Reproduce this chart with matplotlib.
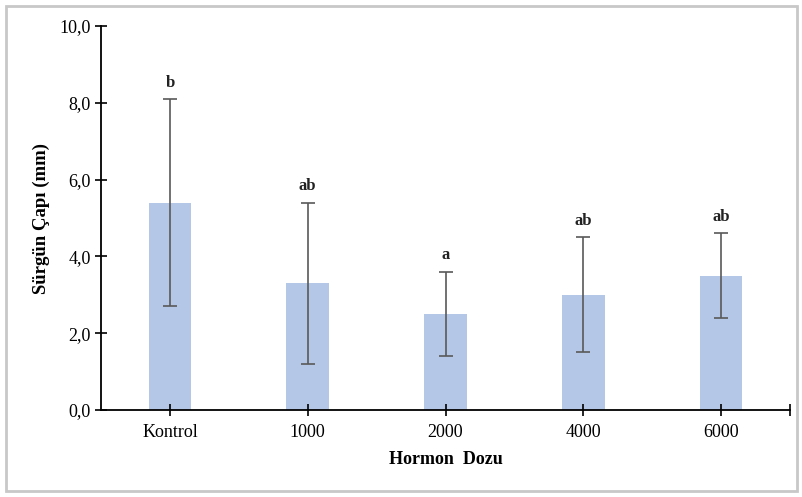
import matplotlib
matplotlib.use("Agg")
import matplotlib.pyplot as plt
from matplotlib.patches import Rectangle
from matplotlib.ticker import FuncFormatter, MultipleLocator

categories = ["Kontrol", "1000", "2000", "4000", "6000"]
means = [5.4, 3.3, 2.5, 3.0, 3.5]
errors = [2.7, 2.1, 1.1, 1.5, 1.1]
letters = ["b", "ab", "a", "ab", "ab"]

plt.rcParams['font.family'] = ['Liberation Serif', 'DejaVu Serif']

fig = plt.figure(figsize=(8.03, 4.97), dpi=100)
fig.patches.append(Rectangle((0.008, 0.012), 0.984, 0.976, transform=fig.transFigure,
                             fill=False, edgecolor='#c8c8c8', linewidth=2))
ax = fig.add_axes([0.1258, 0.175, 0.858, 0.7727])

x = list(range(len(categories)))
ax.bar(x, means, width=0.31, color='#B4C7E7', zorder=1)
ax.errorbar(x, means, yerr=errors, fmt='none', ecolor='#595959', elinewidth=1.2,
            capsize=5, capthick=1.2, zorder=2)
for xi, m, e, l in zip(x, means, errors, letters):
    ax.annotate(l, (xi, m + e), xytext=(0, 6), textcoords='offset points',
                ha='center', va='bottom', fontsize=12, fontweight='bold', color='#222222')

ax.set_xlim(-0.5, 4.5)
ax.set_ylim(0, 10)
ax.yaxis.set_major_locator(MultipleLocator(2))
ax.yaxis.set_major_formatter(FuncFormatter(lambda v, p: f"{v:.1f}".replace('.', ',')))
ax.set_xticks(x)
ax.set_xticklabels(categories)
ax.set_xticks([4.5], minor=True)
ax.tick_params(axis='both', which='both', direction='inout', length=8, width=1.2,
               labelsize=13, colors='black')
ax.tick_params(axis='x', which='major', pad=6)
for s in ['top', 'right']:
    ax.spines[s].set_visible(False)
for s in ['left', 'bottom']:
    ax.spines[s].set_linewidth(1.3)

ax.set_ylabel("Sürgün Çapı (mm)", fontsize=13.5, fontweight='bold')
ax.yaxis.set_label_coords(-0.074, 0.5)
ax.set_xlabel("Hormon  Dozu", fontsize=13, fontweight='bold', labelpad=7)

fig.savefig("out.png", dpi=100)
